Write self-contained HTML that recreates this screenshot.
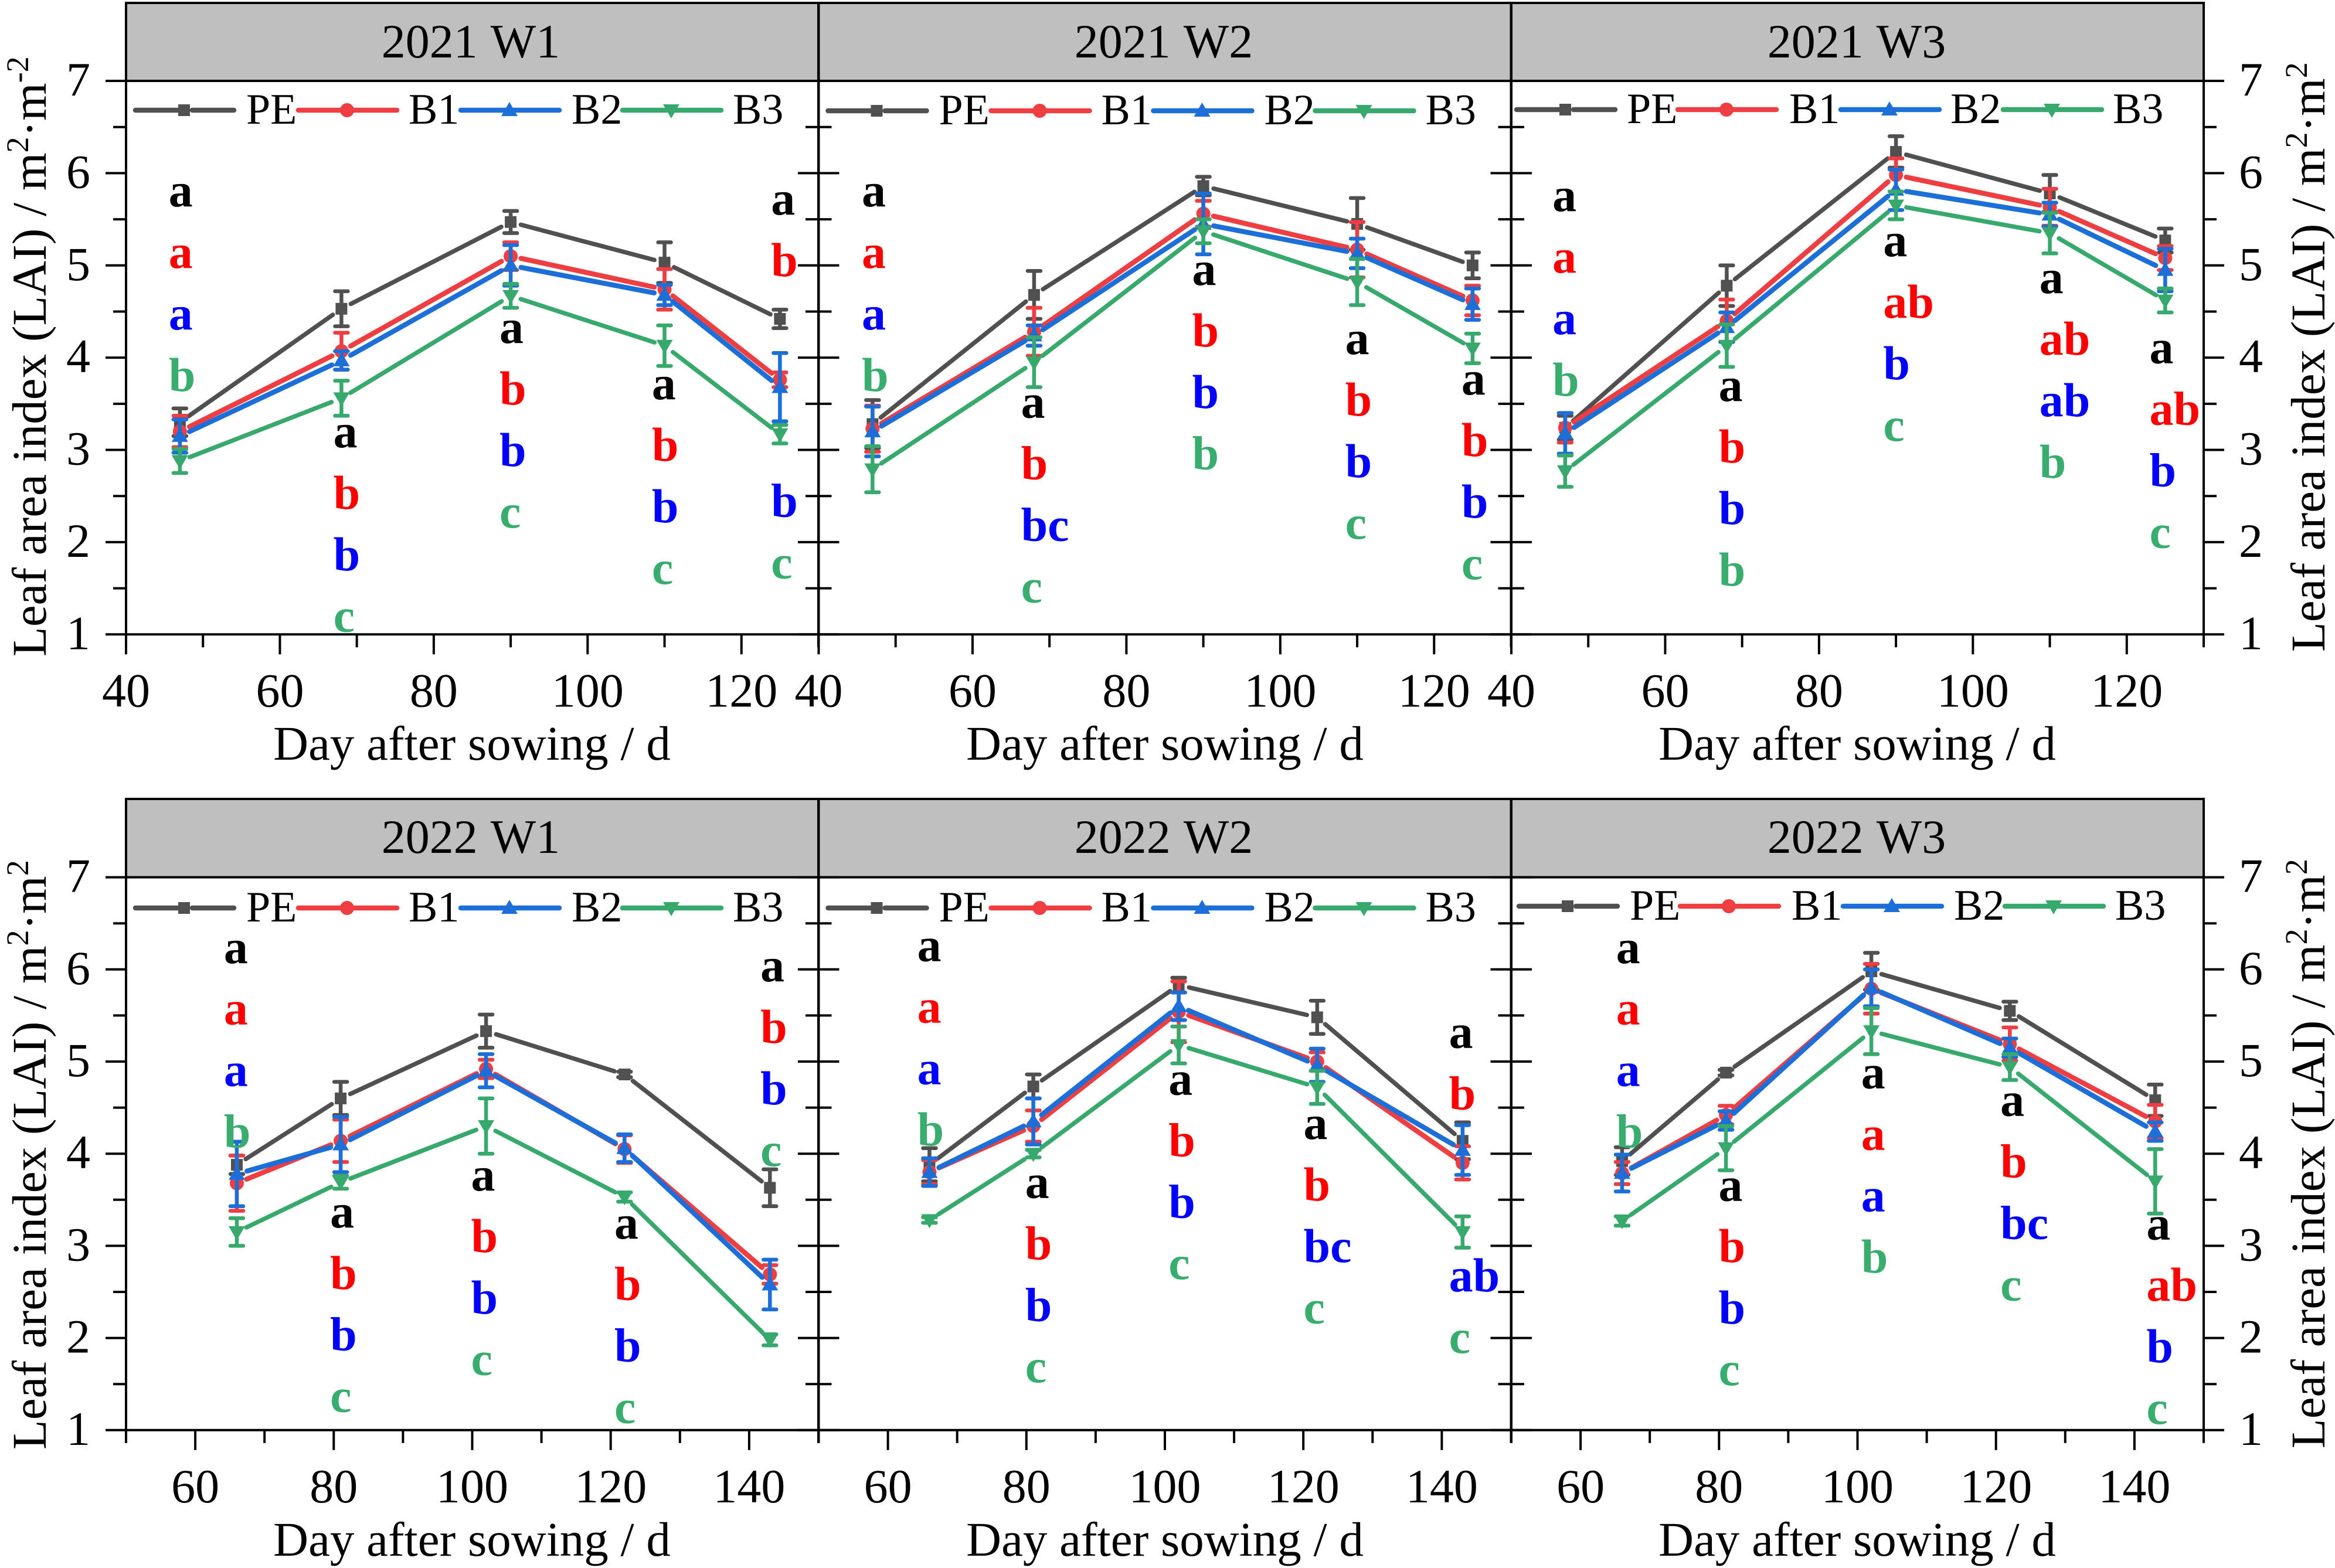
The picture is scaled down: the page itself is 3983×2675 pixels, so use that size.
<!DOCTYPE html>
<html lang="en">
<head>
<meta charset="utf-8">
<title>Leaf area index by day after sowing, 2021 and 2022</title>
<style>
html,body{margin:0;padding:0;background:#fff;}
svg{display:block;}
text{font-family:"Liberation Serif",serif;fill:#000;}
</style>
</head>
<body>
<svg id="chart" xmlns="http://www.w3.org/2000/svg" width="3983" height="2675" viewBox="0 0 3983 2675">
  <rect x="0" y="0" width="3983" height="2675" fill="#ffffff"/>
  <g id="panels"></g>

  <g font-size="82" text-anchor="middle" word-spacing="3">
    <text x="803" y="98">2021 W1</text>
    <text x="1985" y="98">2021 W2</text>
    <text x="3167" y="98">2021 W3</text>
    <text x="803" y="1455">2022 W1</text>
    <text x="1985" y="1455">2022 W2</text>
    <text x="3167" y="1455">2022 W3</text>
  </g>

  <g font-size="83" text-anchor="middle">
    <text x="805" y="1296">Day after sowing / d</text>
    <text x="1987" y="1296">Day after sowing / d</text>
    <text x="3168" y="1296">Day after sowing / d</text>
    <text x="805" y="2654">Day after sowing / d</text>
    <text x="1987" y="2654">Day after sowing / d</text>
    <text x="3168" y="2654">Day after sowing / d</text>
  </g>

  <g font-size="83">
    <text transform="translate(78,1120) rotate(-90)">Leaf area index (LAI) / m<tspan dy="-30" font-size="54">2</tspan><tspan dy="30">·m</tspan><tspan dy="-30" font-size="54">-2</tspan></text>
    <text transform="translate(3965,1112) rotate(-90)">Leaf area index (LAI) / m<tspan dy="-30" font-size="54">2</tspan><tspan dy="30">·m</tspan><tspan dy="-30" font-size="54">2</tspan></text>
    <text transform="translate(78,2473) rotate(-90)">Leaf area index (LAI) / m<tspan dy="-30" font-size="54">2</tspan><tspan dy="30">·m</tspan><tspan dy="-30" font-size="54">2</tspan></text>
    <text transform="translate(3965,2471) rotate(-90)">Leaf area index (LAI) / m<tspan dy="-30" font-size="54">2</tspan><tspan dy="30">·m</tspan><tspan dy="-30" font-size="54">2</tspan></text>
  </g>
</svg>

<script>
// ---- Categories ----
const days2021 = [47, 68, 90, 110, 125];
const days2022 = [66, 81, 102, 122, 143];
const seriesNames = ['PE', 'B1', 'B2', 'B3'];

// ---- Tick values ----
const yMajorTicks = [1, 2, 3, 4, 5, 6, 7];
const yMinorTicks = [1.5, 2.5, 3.5, 4.5, 5.5, 6.5];
const xMajorTicks2021 = [40, 60, 80, 100, 120];
const xMinorTicks2021 = [50, 70, 90, 110, 130];
const xMajorTicks2022 = [60, 80, 100, 120, 140];
const xMinorTicks2022 = [50, 70, 90, 110, 130, 150];

// ---- 2021 W1 ----
const lai2021W1PE = [3.30, 4.53, 5.47, 5.03, 4.42];
const lai2021W1B1 = [3.20, 4.07, 5.10, 4.74, 3.76];
const lai2021W1B2 = [3.15, 3.97, 5.00, 4.68, 3.68];
const lai2021W1B3 = [2.88, 3.56, 4.67, 4.13, 3.17];
const err2021W1PE = [0.15, 0.19, 0.12, 0.22, 0.10];
const err2021W1B1 = [0.17, 0.20, 0.15, 0.22, 0.08];
const err2021W1B2 = [0.18, 0.10, 0.22, 0.11, 0.37];
const err2021W1B3 = [0.13, 0.19, 0.13, 0.22, 0.10];
const letters2021W1 = [['a','a','a','b'], ['a','b','b','c'], ['a','b','b','c'], ['a','b','b','c'], ['a','b','b','c']];
const letterDays2021W1 = [45.7, 67.1, 88.7, 108.5, 124];
const letterTop2021W1 = [5.64, 3.03, 4.16, 3.55, 5.55];
const letterDrop2021W1 = [0, 0, 0, 0, 1.94];

// ---- 2021 W2 ----
const lai2021W2PE = [3.28, 4.68, 5.86, 5.45, 5.00];
const lai2021W2B1 = [3.23, 4.28, 5.56, 5.17, 4.62];
const lai2021W2B2 = [3.20, 4.24, 5.45, 5.13, 4.58];
const lai2021W2B3 = [2.79, 3.95, 5.37, 4.82, 4.10];
const err2021W2PE = [0.26, 0.26, 0.10, 0.28, 0.14];
const err2021W2B1 = [0.25, 0.26, 0.14, 0.30, 0.16];
const err2021W2B2 = [0.27, 0.11, 0.33, 0.16, 0.17];
const err2021W2B3 = [0.25, 0.27, 0.13, 0.25, 0.16];
const letters2021W2 = [['a','a','a','b'], ['a','b','bc','c'], ['a','b','b','b'], ['a','b','b','c'], ['a','b','b','c']];
const letterDays2021W2 = [45.75, 66.45, 88.7, 108.6, 123.7];
const letterTop2021W2 = [5.64, 3.35, 4.79, 4.04, 3.60];
const letterDrop2021W2 = [0, 0, 0, 0, 0];

// ---- 2021 W3 ----
const lai2021W3PE = [3.24, 4.78, 6.23, 5.78, 5.27];
const lai2021W3B1 = [3.24, 4.40, 5.98, 5.63, 5.08];
const lai2021W3B2 = [3.18, 4.33, 5.82, 5.55, 4.95];
const lai2021W3B3 = [2.77, 4.13, 5.65, 5.35, 4.62];
const err2021W3PE = [0.13, 0.22, 0.17, 0.20, 0.13];
const err2021W3B1 = [0.16, 0.23, 0.18, 0.20, 0.13];
const err2021W3B2 = [0.22, 0.16, 0.22, 0.13, 0.23];
const err2021W3B3 = [0.17, 0.23, 0.15, 0.22, 0.13];
const letters2021W3 = [['a','a','a','b'], ['a','b','b','b'], ['a','ab','b','c'], ['a','ab','ab','b'], ['a','ab','b','c']];
const letterDays2021W3 = [45.5, 67.1, 88.5, 108.8, 123.1];
const letterTop2021W3 = [5.59, 3.53, 5.10, 4.70, 3.94];
const letterDrop2021W3 = [0, 0, 0, 0, 0];

// ---- 2022 W1 ----
const lai2022W1PE = [3.88, 4.60, 5.33, 4.86, 3.63];
const lai2022W1B1 = [3.68, 4.14, 4.92, 4.05, 2.69];
const lai2022W1B2 = [3.78, 4.10, 4.90, 4.06, 2.58];
const lai2022W1B3 = [3.15, 3.69, 4.30, 3.53, 1.98];
const err2022W1PE = [0.10, 0.18, 0.18, 0.03, 0.20];
const err2022W1B1 = [0.30, 0.23, 0.10, 0.15, 0.10];
const err2022W1B2 = [0.35, 0.30, 0.18, 0.15, 0.27];
const err2022W1B3 = [0.15, 0.07, 0.30, 0.05, 0.06];
const letters2022W1 = [['a','a','a','b'], ['a','b','b','c'], ['a','b','b','c'], ['a','b','b','c'], ['a','b','b','c']];
const letterDays2022W1 = [64.3, 79.65, 100, 120.7, 141.8];
const letterTop2022W1 = [6.07, 3.20, 3.60, 3.08, 5.87];
const letterDrop2022W1 = [0, 0, 0, 0, 0];

// ---- 2022 W2 ----
const lai2022W2PE = [3.88, 4.73, 5.83, 5.48, 4.14];
const lai2022W2B1 = [3.80, 4.30, 5.54, 5.00, 3.90];
const lai2022W2B2 = [3.80, 4.35, 5.60, 4.96, 4.04];
const lai2022W2B3 = [3.28, 4.00, 5.18, 4.72, 3.15];
const err2022W2PE = [0.18, 0.13, 0.08, 0.18, 0.20];
const err2022W2B1 = [0.13, 0.17, 0.33, 0.10, 0.18];
const err2022W2B2 = [0.15, 0.25, 0.15, 0.18, 0.27];
const err2022W2B3 = [0.03, 0.04, 0.20, 0.18, 0.17];
const letters2022W2 = [['a','a','a','b'], ['a','b','b','c'], ['a','b','b','c'], ['a','b','bc','c'], ['a','b','ab','c']];
const letterDays2022W2 = [64.4, 80, 100.7, 120.2, 141.2];
const letterTop2022W2 = [6.09, 3.52, 4.64, 4.16, 5.15];
const letterDrop2022W2 = [0, 0, 0, 0, 1.31];

// ---- 2022 W3 ----
const lai2022W3PE = [3.92, 4.88, 5.98, 5.55, 4.58];
const lai2022W3B1 = [3.79, 4.42, 5.79, 5.19, 4.35];
const lai2022W3B2 = [3.79, 4.36, 5.80, 5.15, 4.24];
const lai2022W3B3 = [3.27, 4.06, 5.33, 4.94, 3.70];
const err2022W3PE = [0.15, 0.03, 0.20, 0.10, 0.17];
const err2022W3B1 = [0.12, 0.10, 0.27, 0.18, 0.18];
const err2022W3B2 = [0.20, 0.10, 0.20, 0.10, 0.10];
const err2022W3B3 = [0.05, 0.24, 0.25, 0.14, 0.35];
const letters2022W3 = [['a','a','a','b'], ['a','b','b','c'], ['a','a','a','b'], ['a','b','bc','c'], ['a','ab','b','c']];
const letterDays2022W3 = [65.3, 80.1, 100.7, 120.8, 141.9];
const letterTop2022W3 = [6.07, 3.49, 4.71, 4.41, 3.07];
const letterDrop2022W3 = [0, 0, 0, 0, 0];

// ---- Styles and layout (not data) ----
const seriesColors = ['#505050', '#ef3e42', '#1c6fd8', '#38a96d'];
const seriesWidths = [7.5, 8.5, 8.5, 7.5];
const letterColors = ['#000000', '#ff0000', '#0000ff', '#39ad6e'];
const legendLayoutA = {lines: [12, 290, 567, 843], texts: [205, 482, 760, 1035]};
const legendLayoutB = {lines: [5, 280, 558, 835], texts: [197, 474, 749, 1026]};
const legendLayoutC = {lines: [9, 284, 562, 838], texts: [202, 478, 755, 1030]};
const rowTop = {strip: 5, y7: 138, y1: 1082.3};
const rowBottom = {strip: 1363, y7: 1496.6, y1: 2439.8};
const panelLefts = [215, 1396.5, 2578];
const panelWidth = 1181;

const panels = [
  {id: '2021-w1', col: 0, row: rowTop, xMin: 40, xMax: 130, days: days2021, major: xMajorTicks2021, minor: xMinorTicks2021,
   values: [lai2021W1PE, lai2021W1B1, lai2021W1B2, lai2021W1B3], errors: [err2021W1PE, err2021W1B1, err2021W1B2, err2021W1B3],
   letters: letters2021W1, letterDays: letterDays2021W1, letterTop: letterTop2021W1, letterDrop: letterDrop2021W1, legend: legendLayoutA, legendY: 188},
  {id: '2021-w2', col: 1, row: rowTop, xMin: 40, xMax: 130, days: days2021, major: xMajorTicks2021, minor: xMinorTicks2021,
   values: [lai2021W2PE, lai2021W2B1, lai2021W2B2, lai2021W2B3], errors: [err2021W2PE, err2021W2B1, err2021W2B2, err2021W2B3],
   letters: letters2021W2, letterDays: letterDays2021W2, letterTop: letterTop2021W2, letterDrop: letterDrop2021W2, legend: legendLayoutA, legendY: 189},
  {id: '2021-w3', col: 2, row: rowTop, xMin: 40, xMax: 130, days: days2021, major: xMajorTicks2021, minor: xMinorTicks2021,
   values: [lai2021W3PE, lai2021W3B1, lai2021W3B2, lai2021W3B3], errors: [err2021W3PE, err2021W3B1, err2021W3B2, err2021W3B3],
   letters: letters2021W3, letterDays: letterDays2021W3, letterTop: letterTop2021W3, letterDrop: letterDrop2021W3, legend: legendLayoutB, legendY: 187},
  {id: '2022-w1', col: 0, row: rowBottom, xMin: 50, xMax: 150, days: days2022, major: xMajorTicks2022, minor: xMinorTicks2022,
   values: [lai2022W1PE, lai2022W1B1, lai2022W1B2, lai2022W1B3], errors: [err2022W1PE, err2022W1B1, err2022W1B2, err2022W1B3],
   letters: letters2022W1, letterDays: letterDays2022W1, letterTop: letterTop2022W1, letterDrop: letterDrop2022W1, legend: legendLayoutA, legendY: 1549},
  {id: '2022-w2', col: 1, row: rowBottom, xMin: 50, xMax: 150, days: days2022, major: xMajorTicks2022, minor: xMinorTicks2022,
   values: [lai2022W2PE, lai2022W2B1, lai2022W2B2, lai2022W2B3], errors: [err2022W2PE, err2022W2B1, err2022W2B2, err2022W2B3],
   letters: letters2022W2, letterDays: letterDays2022W2, letterTop: letterTop2022W2, letterDrop: letterDrop2022W2, legend: legendLayoutA, legendY: 1549},
  {id: '2022-w3', col: 2, row: rowBottom, xMin: 50, xMax: 150, days: days2022, major: xMajorTicks2022, minor: xMinorTicks2022,
   values: [lai2022W3PE, lai2022W3B1, lai2022W3B2, lai2022W3B3], errors: [err2022W3PE, err2022W3B1, err2022W3B2, err2022W3B3],
   letters: letters2022W3, letterDays: letterDays2022W3, letterTop: letterTop2022W3, letterDrop: letterDrop2022W3, legend: legendLayoutC, legendY: 1546}
];

const NS = 'http://www.w3.org/2000/svg';
function mk(tag, parent, props) {
  const el = document.createElementNS(NS, tag);
  for (const k in props) { el.setAttribute(k, props[k]); }
  parent.appendChild(el);
  return el;
}

function markerPath(kind, cx, cy) {
  if (kind === 0) { return 'M' + (cx - 10) + ' ' + (cy - 10) + 'h20v20h-20z'; }
  if (kind === 1) { return 'M' + (cx - 12) + ' ' + cy + 'a12 12 0 1 0 24 0a12 12 0 1 0 -24 0z'; }
  if (kind === 2) { return 'M' + cx + ' ' + (cy - 14) + 'L' + (cx + 14) + ' ' + (cy + 10) + 'L' + (cx - 14) + ' ' + (cy + 10) + 'z'; }
  return 'M' + cx + ' ' + (cy + 14) + 'L' + (cx + 14) + ' ' + (cy - 10) + 'L' + (cx - 14) + ' ' + (cy - 10) + 'z';
}

function drawPanel(root, p) {
  const left = panelLefts[p.col];
  const right = left + panelWidth;
  const xScale = d => left + (d - p.xMin) * panelWidth / (p.xMax - p.xMin);
  const yScale = v => p.row.y7 + (7 - v) * (p.row.y1 - p.row.y7) / 6;

  const g = mk('g', root, {});
  
  

  const strip = mk('rect', g, {x: left, y: p.row.strip, width: panelWidth, height: p.row.y7 - p.row.strip, fill: '#bfbfbf', stroke: '#000', 'stroke-width': 4});
  
  

  // Axes frame
  const frame = mk('path', g, {d: 'M' + left + ' ' + p.row.y7 + 'V' + p.row.y1 + 'H' + right + 'V' + p.row.y7, fill: 'none', stroke: '#000', 'stroke-width': 4});
  
  

  // X ticks
  p.major.forEach(t => {
    const tick = mk('line', g, {x1: xScale(t), x2: xScale(t), y1: p.row.y1, y2: p.row.y1 + 34, stroke: '#000', 'stroke-width': 4});
    
    
    const label = mk('text', g, {x: xScale(t), y: p.row.y1 + 123, 'font-size': 82, 'text-anchor': 'middle'});
    label.textContent = String(t);
    
    
  });
  p.minor.forEach(t => {
    const tick = mk('line', g, {x1: xScale(t), x2: xScale(t), y1: p.row.y1, y2: p.row.y1 + 22, stroke: '#000', 'stroke-width': 4});
    
    
  });

  // Y ticks
  const leftDir = p.col === 0 ? -1 : 1;
  const rightDir = p.col === 2 ? 1 : -1;
  yMajorTicks.forEach(t => {
    const a = mk('line', g, {x1: left, x2: left + leftDir * 35, y1: yScale(t), y2: yScale(t), stroke: '#000', 'stroke-width': 4});
    
    
    const b = mk('line', g, {x1: right, x2: right + rightDir * 35, y1: yScale(t), y2: yScale(t), stroke: '#000', 'stroke-width': 4});
    
    
    if (p.col === 0) {
      const label = mk('text', g, {x: left - 61, y: yScale(t) + 25, 'font-size': 82, 'text-anchor': 'end'});
      label.textContent = String(t);
      
      
    }
    if (p.col === 2) {
      const label = mk('text', g, {x: right + 60, y: yScale(t) + 25, 'font-size': 82, 'text-anchor': 'start'});
      label.textContent = String(t);
      
      
    }
  });
  yMinorTicks.forEach(t => {
    const a = mk('line', g, {x1: left, x2: left + leftDir * 22, y1: yScale(t), y2: yScale(t), stroke: '#000', 'stroke-width': 4});
    
    
    const b = mk('line', g, {x1: right, x2: right + rightDir * 22, y1: yScale(t), y2: yScale(t), stroke: '#000', 'stroke-width': 4});
    
    
  });

  // Series
  p.values.forEach((vals, s) => {
    const color = seriesColors[s];
    const sg = mk('g', g, {});
    
    

    // Line segments stop short of each marker
    const gap = 18;
    let d = '';
    for (let i = 0; i + 1 < vals.length; i++) {
      const x0 = xScale(p.days[i]), y0 = yScale(vals[i]);
      const x1 = xScale(p.days[i + 1]), y1 = yScale(vals[i + 1]);
      const len = Math.hypot(x1 - x0, y1 - y0);
      const ux = (x1 - x0) / len, uy = (y1 - y0) / len;
      d += 'M' + (x0 + ux * gap).toFixed(1) + ' ' + (y0 + uy * gap).toFixed(1) +
           'L' + (x1 - ux * gap).toFixed(1) + ' ' + (y1 - uy * gap).toFixed(1);
    }
    const line = mk('path', sg, {d: d, fill: 'none', stroke: color, 'stroke-width': seriesWidths[s], 'stroke-linecap': 'round'});
    
    

    vals.forEach((v, i) => {
      const cx = xScale(p.days[i]);
      const e = p.errors[s][i];
      const top = yScale(v + e), bottom = yScale(v - e);
      const bar = mk('path', sg, {d: 'M' + (cx - 11) + ' ' + top + 'H' + (cx + 11) + 'M' + cx + ' ' + top + 'V' + bottom + 'M' + (cx - 11) + ' ' + bottom + 'H' + (cx + 11), fill: 'none', stroke: color, 'stroke-width': 6.5, 'stroke-linecap': 'round'});
      
      
      const marker = mk('path', sg, {d: markerPath(s, cx, yScale(v)), fill: color});
      
      
    });
  });

  // Legend
  const lg = mk('g', g, {});
  
  
  seriesNames.forEach((name, s) => {
    const x0 = left + p.legend.lines[s];
    const ly = p.legendY;
    const mx = x0 + 87;
    const dLine = s === 0
      ? 'M' + (x0 + 4) + ' ' + ly + 'H' + (mx - 10) + 'M' + (mx + 14) + ' ' + ly + 'H' + (x0 + 172)
      : 'M' + (x0 + 4) + ' ' + ly + 'H' + (x0 + 172);
    const sample = mk('path', lg, {d: dLine, fill: 'none', stroke: seriesColors[s], 'stroke-width': 8.5, 'stroke-linecap': 'round'});
    
    
    const mark = mk('path', lg, {d: markerPath(s, mx, ly), fill: seriesColors[s]});
    
    
    const label = mk('text', lg, {x: left + p.legend.texts[s], y: ly + 23, 'font-size': 74});
    label.textContent = name;
    
    
  });

  // Significance letters
  const letterPitch = 0.667;
  p.letters.forEach((col, i) => {
    col.forEach((txt, r) => {
      const drop = r >= 2 ? p.letterDrop[i] : 0;
      const t = mk('text', g, {x: xScale(p.letterDays[i]) - 2, y: yScale(p.letterTop[i] - r * letterPitch - drop), 'font-size': 82, 'font-weight': 'bold', style: 'fill:' + letterColors[r]});
      t.textContent = txt;
      
      
    });
  });
}

const panelsRoot = document.getElementById('panels');
panels.forEach(p => drawPanel(panelsRoot, p));
</script>
</body>
</html>
